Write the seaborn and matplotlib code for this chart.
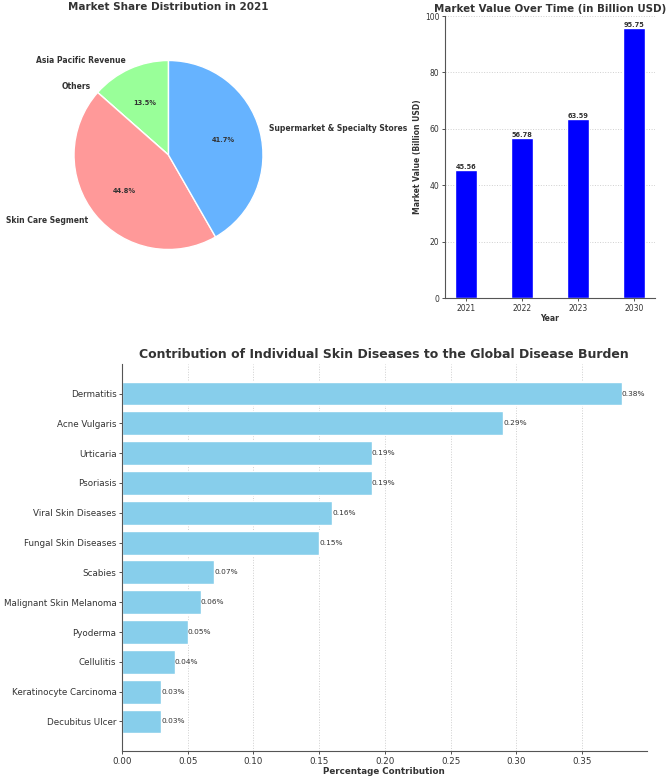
import matplotlib
matplotlib.use('Agg')
import matplotlib.pyplot as plt
import seaborn as sns
import pandas as pd

# pie: market share in 2021 (order follows the wedges counterclockwise from the top)
share_labels = ['Asia Pacific Revenue', 'Others', 'Skin Care Segment',
                'Supermarket & Specialty Stores']
share_values = [13.5, 0.0, 44.8, 41.7]
share_colors = ['#99ff99', '#ffcc99', '#ff9999', '#66b3ff']

# market value over time
years = ['2021', '2022', '2023', '2030']
market_values = [45.56, 56.78, 63.59, 95.75]

# skin diseases share of global burden
diseases = ['Dermatitis', 'Acne Vulgaris', 'Urticaria', 'Psoriasis',
            'Viral Skin Diseases', 'Fungal Skin Diseases', 'Scabies',
            'Malignant Skin Melanoma', 'Pyoderma', 'Cellulitis',
            'Keratinocyte Carcinoma', 'Decubitus Ulcer']
contributions = [0.38, 0.29, 0.19, 0.19, 0.16, 0.15, 0.07, 0.06, 0.05,
                 0.04, 0.03, 0.03]

sns.set_theme(style='ticks', rc={
    'axes.grid': True, 'grid.linestyle': ':', 'grid.color': '#cfcfcf',
    'grid.linewidth': 0.7, 'axes.edgecolor': '#555555',
    'axes.linewidth': 0.8, 'text.color': '#333333',
    'axes.labelcolor': '#333333', 'xtick.color': '#333333',
    'ytick.color': '#333333', 'xtick.major.size': 2.5,
    'ytick.major.size': 2.5, 'xtick.major.width': 0.6,
    'ytick.major.width': 0.6})
plt.rcParams['font.family'] = ['DejaVu Sans']

W, H = 669, 777
fig = plt.figure(figsize=(W / 100, H / 100), dpi=100)


def px_axes(left, top, right, bottom):
    return fig.add_axes([left / W, 1 - bottom / H, (right - left) / W,
                         (bottom - top) / H])


# --- pie ---
ax1 = px_axes(38.5, 14, 298.5, 296)
wedges, texts, autotexts = ax1.pie(
    share_values, labels=share_labels, colors=share_colors, startangle=90,
    autopct=lambda p: f'{p:.1f}%' if p > 0 else '',
    textprops={'fontsize': 5.5, 'fontweight': 'bold', 'color': '#333333'})
for t in autotexts:
    t.set_fontsize(4.8)
ax1.set_aspect('auto')
ax1.set_xlim(-1.376, 1.376)
ax1.set_ylim(-1.492, 1.492)
ax1.set_title('Market Share Distribution in 2021', fontsize=7.5,
              fontweight='bold', pad=3)

# --- market value bars ---
ax2 = px_axes(445, 16, 655, 298)
mv = pd.DataFrame({'Year': years, 'Value': market_values})
sns.barplot(data=mv, x='Year', y='Value', color='blue', saturation=1,
            width=0.4, ax=ax2)
ax2.set_xlim(-0.37, 3.37)
ax2.set_ylim(0, 100)
for bar, v in zip(ax2.patches, market_values):
    ax2.text(bar.get_x() + bar.get_width() / 2, bar.get_height(), f'{v:.2f}',
             ha='center', va='bottom', fontsize=4.8, fontweight='bold')
ax2.set_title('Market Value Over Time (in Billion USD)', fontsize=7.4,
              fontweight='bold', pad=3)
ax2.set_xlabel('Year', fontsize=5.5, fontweight='bold', labelpad=1)
ax2.set_ylabel('Market Value (Billion USD)', fontsize=5.5,
               fontweight='bold', labelpad=2)
ax2.tick_params(labelsize=5.5, pad=1.5)
sns.despine(ax=ax2)

# --- disease contribution bars ---
ax3 = px_axes(122, 364, 646.5, 751)
dd = pd.DataFrame({'Disease': diseases, 'Contribution': contributions})
sns.barplot(data=dd, y='Disease', x='Contribution', color='skyblue',
            saturation=1, width=0.8, orient='h', ax=ax3)
ax3.set_xlim(0, 0.399)
ax3.set_ylim(11.99, -0.99)
for bar, v in zip(ax3.patches, contributions):
    ax3.text(bar.get_width(), bar.get_y() + bar.get_height() / 2, f'{v:.2f}%',
             ha='left', va='center', fontsize=5.3)
ax3.set_title('Contribution of Individual Skin Diseases to the Global '
              'Disease Burden', fontsize=9, fontweight='bold', pad=4)
ax3.set_xlabel('Percentage Contribution', fontsize=6.3, fontweight='bold',
               labelpad=1)
ax3.set_ylabel('')
ax3.tick_params(labelsize=6.3, pad=1.5)
sns.despine(ax=ax3)

fig.savefig('out.png', dpi=100)
